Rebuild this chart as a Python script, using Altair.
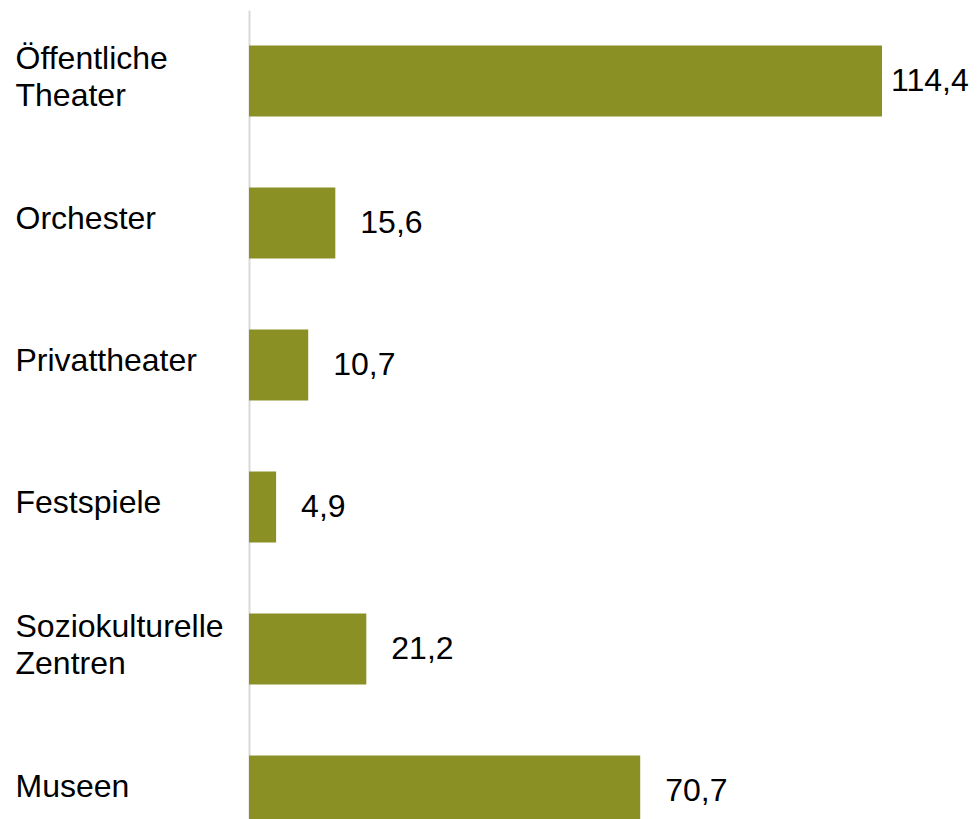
import altair as alt
import pandas as pd

categories = ["Öffentliche\nTheater", "Orchester", "Privattheater", "Festspiele",
              "Soziokulturelle\nZentren", "Museen"]
values = [114.4, 15.6, 10.7, 4.9, 21.2, 70.7]
value_labels = ["114,4", "15,6", "10,7", "4,9", "21,2", "70,7"]

df = pd.DataFrame({"cat": categories, "val": values, "lab": value_labels})

FONT = "Liberation Sans"
COLOR = "#8A9024"

y = alt.Y("cat:N", sort=None, title=None,
          scale=alt.Scale(paddingInner=0.5, paddingOuter=0.25),
          axis=alt.Axis(labelAlign="left", labelPadding=234, ticks=False,
                        labelFont=FONT, labelFontSize=32, labelColor="#000000",
                        labelLineHeight=37, labelLimit=0,
                        labelExpr="split(datum.label, '\\n')",
                        labelOffset=alt.ExprRef(
                            "indexof(datum.value, '\\n') >= 0 ? -22 : -4"),
                        domainColor="#D9D9D9", domainWidth=2))
x = alt.X("val:Q", title=None, scale=alt.Scale(domain=[0, 120], nice=False),
          axis=None)

bars = alt.Chart(df).mark_bar(color=COLOR).encode(x=x, y=y)
text = alt.Chart(df).transform_filter("datum.val < 100").mark_text(
    align="left", baseline="middle", dx=25, font=FONT, fontSize=32, color="#000000"
).encode(x=x, y=y, text="lab:N")
text_big = alt.Chart(df).transform_filter("datum.val >= 100").mark_text(
    align="left", baseline="middle", dx=9, font=FONT, fontSize=32, color="#000000"
).encode(x=x, y=y, text="lab:N")

chart = (bars + text + text_big).properties(
    width=664, height=852,
    autosize=alt.AutoSizeParams(type="none"),
    padding={"left": 241, "top": 2, "right": 57, "bottom": 0}
).configure_view(stroke=None).configure_axis(grid=False)

chart.save("out.html", embed_options={"renderer": "svg", "actions": False})
